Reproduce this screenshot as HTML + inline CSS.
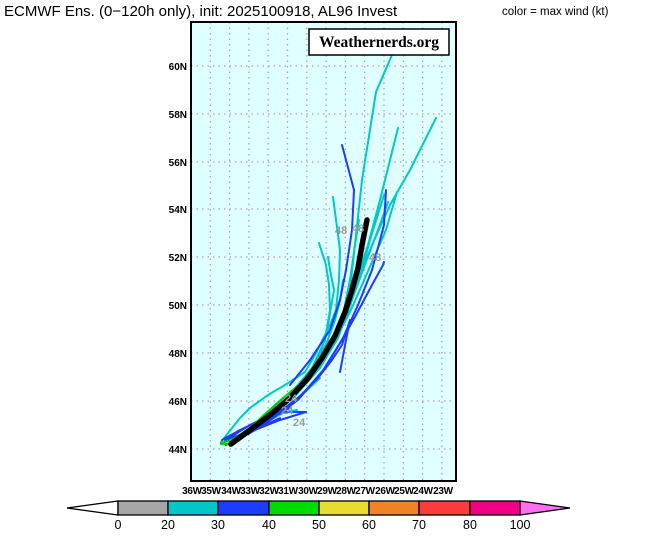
<!DOCTYPE html>
<html><head><style>
body{margin:0;background:#fff;width:646px;height:533px;overflow:hidden}
svg text{font-family:"Liberation Sans",sans-serif}
</style></head><body>
<svg width="646" height="533" viewBox="0 0 646 533" xmlns="http://www.w3.org/2000/svg">
<text x="4" y="16" font-size="15">ECMWF Ens. (0−120h only), init: 2025100918, AL96 Invest</text>
<text x="502" y="15" font-size="11.5">color = max wind (kt)</text>
<rect x="191" y="22" width="265" height="459" fill="#e0ffff"/>
<g stroke="#aaa" stroke-width="1.3" stroke-dasharray="1.5,4">
<line x1="210.3" y1="22" x2="210.3" y2="481"/><line x1="229.6" y1="22" x2="229.6" y2="481"/><line x1="248.9" y1="22" x2="248.9" y2="481"/><line x1="268.2" y1="22" x2="268.2" y2="481"/><line x1="287.5" y1="22" x2="287.5" y2="481"/><line x1="306.8" y1="22" x2="306.8" y2="481"/><line x1="326.1" y1="22" x2="326.1" y2="481"/><line x1="345.4" y1="22" x2="345.4" y2="481"/><line x1="364.7" y1="22" x2="364.7" y2="481"/><line x1="384" y1="22" x2="384" y2="481"/><line x1="403.3" y1="22" x2="403.3" y2="481"/><line x1="422.6" y1="22" x2="422.6" y2="481"/><line x1="441.9" y1="22" x2="441.9" y2="481"/>
<line x1="191" y1="449" x2="456" y2="449"/><line x1="191" y1="401" x2="456" y2="401"/><line x1="191" y1="353" x2="456" y2="353"/><line x1="191" y1="305" x2="456" y2="305"/><line x1="191" y1="257" x2="456" y2="257"/><line x1="191" y1="209" x2="456" y2="209"/><line x1="191" y1="162" x2="456" y2="162"/><line x1="191" y1="114" x2="456" y2="114"/><line x1="191" y1="66" x2="456" y2="66"/>
</g>
<g fill="none" stroke-width="2" stroke-linejoin="round" stroke-linecap="round">
<g stroke="#00c8c8">
<polyline points="231,444 260,422 290,398 312,372 330,345 342,318 350,290 356,235 362,180 376,92 392,55"/>
<polyline points="231,444 262,421 292,396 315,370 333,342 347,315 358,280 372,245 390,205 410,170 436,118"/>
<polyline points="231,444 262,420 293,394 316,366 333,338 346,308 357,278 368,245 380,200 398,128"/>
<polyline points="231,444 263,420 294,395 317,368 335,340 350,312 362,285 375,255 386,230 397,192"/>
<polyline points="231,444 262,420 292,395 314,368 328,340 336,310 339,280 340,250 333,197"/>
<polyline points="231,444 262,420 292,394 312,368 325,340 330,310 329,285 326,265 319,243"/>
<polyline points="231,444 264,420 294,394 318,367 336,340 350,305 362,270 370,240 384,195"/>
<polyline points="231,444 265,421 296,395 320,368 338,338 352,300 366,262 378,230 388,202"/>
<polyline points="231,444 262,418 290,395 308,375 320,355 328,325 334,290 330,270 328,257"/>
<polyline points="231,444 264,419 295,394 318,368 334,340 344,310 350,280 355,245 359,220"/>
<polyline points="231,444 262,418 292,392 312,368 326,345 335,320 340,300 343,280"/>
<polyline points="221,442 240,418 250,408 268,395 285,385 305,372 315,355 330,325 340,300"/>
<polyline points="231,444 250,432 270,420 285,412 297,410"/>
<polyline points="231,444 258,428 282,410 305,392 320,378"/>
</g>
<g stroke="#1e3cff">
<polyline points="342,145 354,190 352,230 346,270 340,300 330,330 310,360 290,385"/>
<polyline points="231,444 265,424 298,400 322,372 342,340 356,315 372,285 383,265 384,262"/>
<polyline points="231,444 266,423 300,397 325,368 343,338 358,305 372,270 384,225 386,190"/>
<polyline points="231,444 266,422 298,398 318,378 332,360 342,345 350,320 346,340 340,372"/>
<polyline points="229,438 250,425 270,415 288,412 305,412"/>
<polyline points="225,440 260,428 280,420 306,412"/>
<polyline points="222,440 240,430 265,418 290,408"/>
<polyline points="231,444 255,430 272,418 285,408 292,404"/>
<polyline points="226,445 245,435 265,425 280,418"/>
</g>
<g stroke="#00d000">
<polyline points="221,443 232,440 250,428 265,414 283,398 295,388 300,385"/>
<polyline points="221,444 232,444 240,436"/>
</g>
</g>
<polyline points="231,444 250,430 270,415 290,398 308,378 322,358 335,336 345,312 352,290 358,268 362,245 367,220" fill="none" stroke="#000" stroke-width="5.5" stroke-linecap="round" stroke-linejoin="round"/>
<g fill="#999" font-size="11" font-weight="bold">
<text x="285" y="402">24</text><text x="293" y="426">24</text><text x="281" y="414">24</text>
<text x="335" y="234">48</text><text x="352" y="232">48</text><text x="369" y="261">48</text>
</g>
<rect x="191" y="22" width="265" height="459" fill="none" stroke="#000" stroke-width="2"/>
<rect x="309" y="29" width="140" height="26" fill="#fff" stroke="#000" stroke-width="1.5"/>
<text x="379" y="47" text-anchor="middle" font-weight="bold" font-size="15.5" style="font-family:'Liberation Serif',serif">Weathernerds.org</text>
<g font-size="10" font-weight="bold" text-anchor="end">
<text x="187" y="453">44N</text><text x="187" y="405">46N</text><text x="187" y="357">48N</text><text x="187" y="309">50N</text><text x="187" y="261">52N</text><text x="187" y="213">54N</text><text x="187" y="166">56N</text><text x="187" y="118">58N</text><text x="187" y="70">60N</text>
</g>
<g font-size="10" font-weight="bold" text-anchor="middle" letter-spacing="-0.3">
<text x="192" y="494">36W</text><text x="211" y="494">35W</text><text x="231" y="494">34W</text><text x="250" y="494">33W</text><text x="269" y="494">32W</text><text x="288" y="494">31W</text><text x="308" y="494">30W</text><text x="327" y="494">29W</text><text x="346" y="494">28W</text><text x="365" y="494">27W</text><text x="385" y="494">26W</text><text x="404" y="494">25W</text><text x="423" y="494">24W</text><text x="443" y="494">23W</text>
</g>
<g stroke="#000" stroke-width="1.3">
<polygon points="67,508 118,501 118,515" fill="#fff"/>
<rect x="118" y="501" width="50" height="14" fill="#a6a6a6"/>
<rect x="168" y="501" width="50" height="14" fill="#00c8c8"/>
<rect x="218" y="501" width="51" height="14" fill="#1e3cff"/>
<rect x="269" y="501" width="50" height="14" fill="#00dc00"/>
<rect x="319" y="501" width="50" height="14" fill="#e6dc32"/>
<rect x="369" y="501" width="50" height="14" fill="#f08228"/>
<rect x="419" y="501" width="51" height="14" fill="#fa3c3c"/>
<rect x="470" y="501" width="50" height="14" fill="#f00082"/>
<polygon points="520,501 570,508 520,515" fill="#ff6ef0"/>
</g>
<g font-size="12.5" text-anchor="middle">
<text x="118" y="529">0</text><text x="168" y="529">20</text><text x="218" y="529">30</text><text x="269" y="529">40</text><text x="319" y="529">50</text><text x="369" y="529">60</text><text x="419" y="529">70</text><text x="470" y="529">80</text><text x="520" y="529">100</text>
</g>
</svg>
</body></html>
